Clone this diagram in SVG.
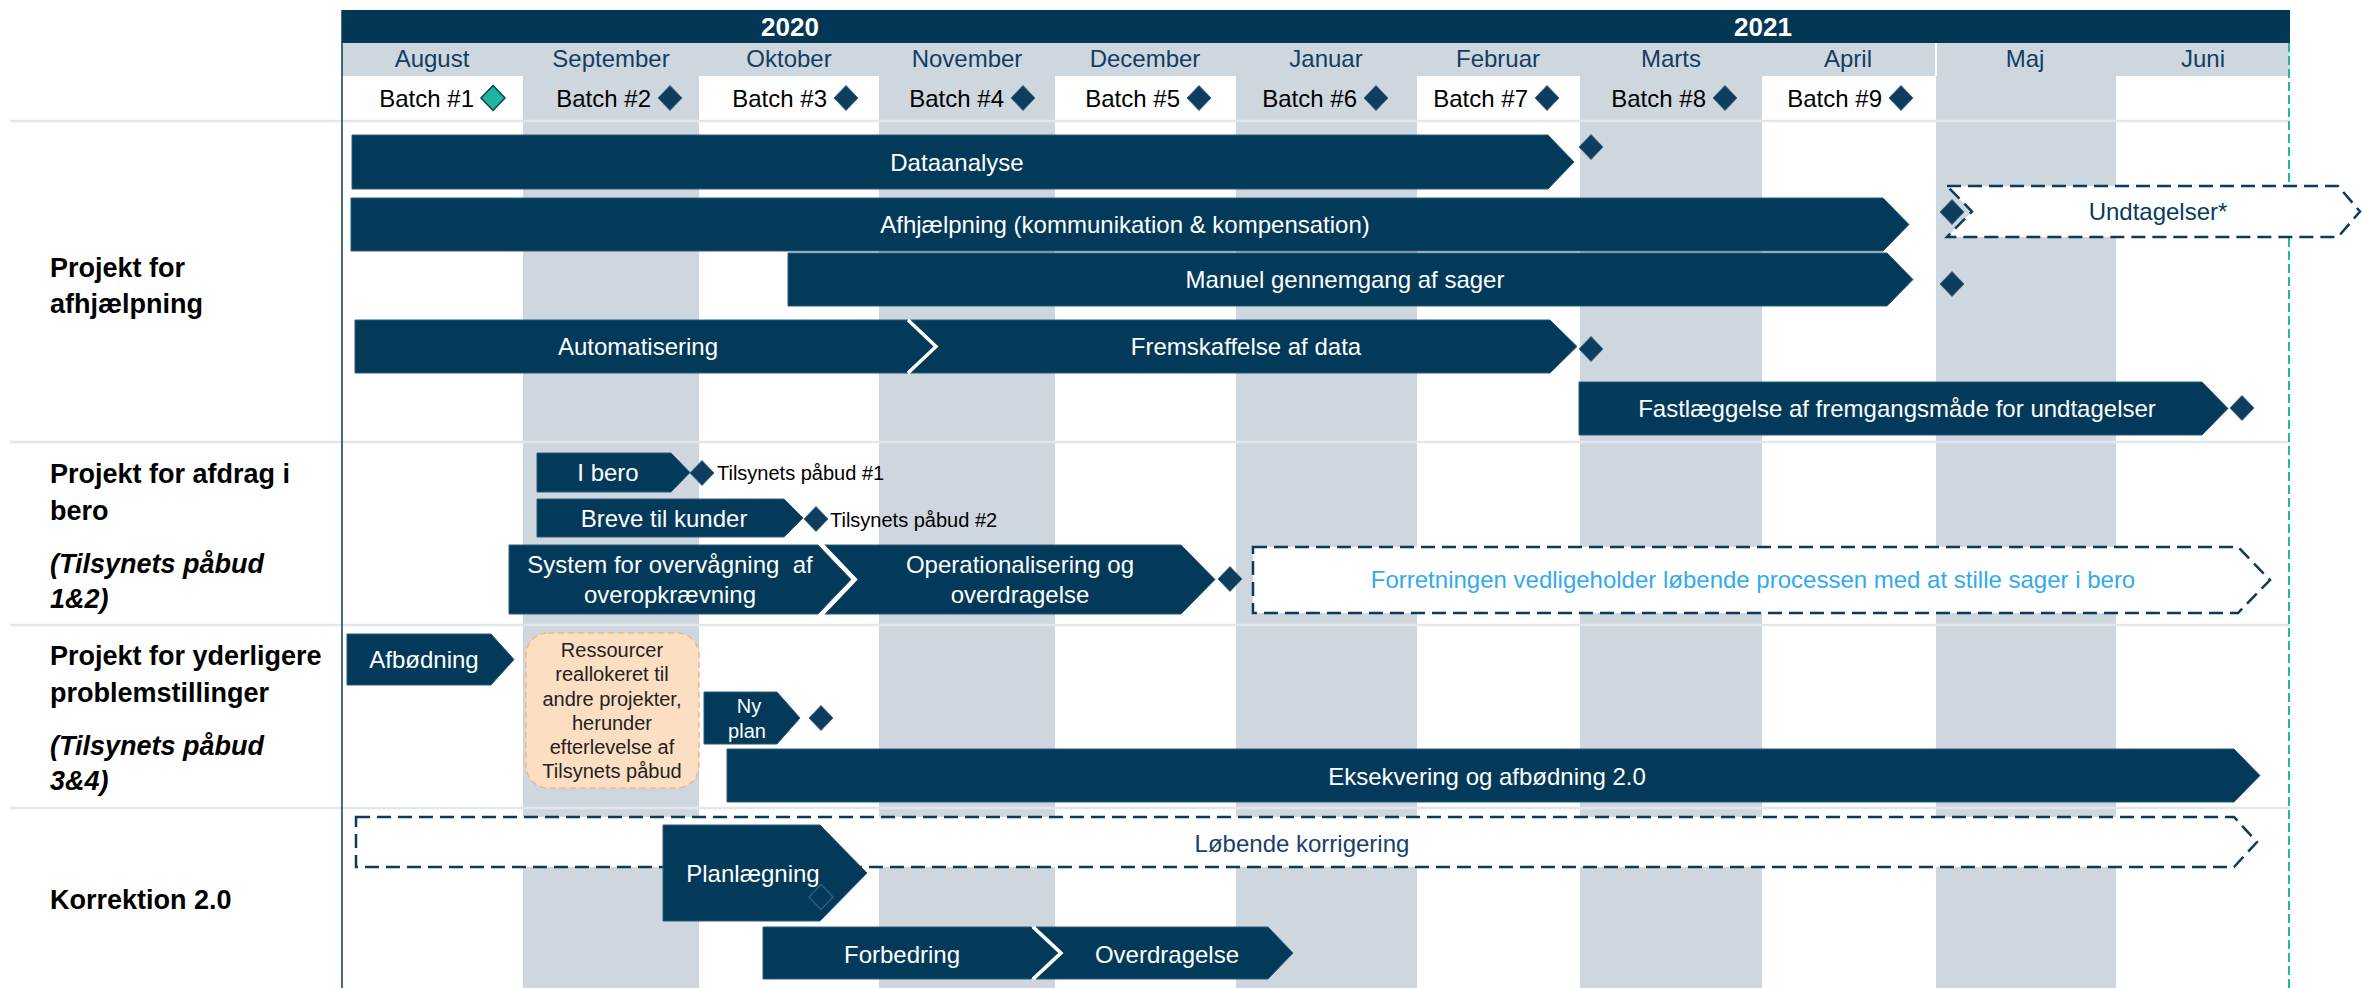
<svg xmlns="http://www.w3.org/2000/svg" xmlns:xlink="http://www.w3.org/1999/xlink" width="2362" height="988" viewBox="0 0 2362 988">
<style>
text{font-family:"Liberation Sans",Arial,sans-serif}
.col{fill:#CED6DE}
.sep{stroke:#E4E7E9;stroke-width:2.5}
.bar{fill:#033A5A;stroke:#2C5A7C;stroke-width:1}
.dash{fill:#fff;stroke:#0B3A5A;stroke-width:2.5;stroke-dasharray:14 7}
.gap{fill:none;stroke:#fff;stroke-width:3.5}
.lbl{font-size:24px;fill:#fff;text-anchor:middle}
.sm{font-size:20px}
.mon{font-size:24px;fill:#123E63;text-anchor:middle}
.yr{font-size:26px;font-weight:bold;fill:#fff;text-anchor:middle}
.bat{font-size:24px;fill:#000;text-anchor:end}
.sec{font-size:27px;font-weight:bold;fill:#000}
.it{font-style:italic}
.dia{fill:#0E3D5E;stroke:#3A6888;stroke-width:1}
.ms{font-size:20px;fill:#000}
</style>
<defs>
<path id="dm" d="M0,-12.5 L12,0 L0,12.5 L-12,0 Z"/>
</defs>

<g id="grid">
<rect x="342" y="10" width="1948" height="33" fill="#033755"/>
<rect x="342" y="43" width="1948" height="33" class="col"/>
<line x1="1936" y1="43" x2="1936" y2="76" stroke="#fff" stroke-width="2"/>
<rect x="523" y="76" width="176" height="912" class="col"/>
<rect x="879" y="76" width="176" height="912" class="col"/>
<rect x="1236" y="76" width="181" height="912" class="col"/>
<rect x="1580" y="76" width="182" height="912" class="col"/>
<rect x="1936" y="76" width="180" height="912" class="col"/>
<line x1="10" y1="121" x2="2290" y2="121" class="sep"/>
<line x1="10" y1="442" x2="2290" y2="442" class="sep"/>
<line x1="10" y1="625" x2="2290" y2="625" class="sep"/>
<line x1="10" y1="808" x2="2290" y2="808" class="sep"/>
<line x1="342" y1="10" x2="342" y2="988" stroke="#0B3A5A" stroke-width="1.5"/>
<line x1="2289" y1="43" x2="2289" y2="988" stroke="#1DBB9B" stroke-width="2" stroke-dasharray="9 4"/>
<text x="790" y="36" class="yr">2020</text>
<text x="1763" y="36" class="yr">2021</text>
<text x="432" y="67" class="mon">August</text>
<text x="611" y="67" class="mon">September</text>
<text x="789" y="67" class="mon">Oktober</text>
<text x="967" y="67" class="mon">November</text>
<text x="1145" y="67" class="mon">December</text>
<text x="1326" y="67" class="mon">Januar</text>
<text x="1498" y="67" class="mon">Februar</text>
<text x="1671" y="67" class="mon">Marts</text>
<text x="1848" y="67" class="mon">April</text>
<text x="2025" y="67" class="mon">Maj</text>
<text x="2203" y="67" class="mon">Juni</text>
</g>

<g id="batches">
<text x="474" y="107" class="bat">Batch #1</text>
<use xlink:href="#dm" x="493" y="98" fill="#1FB5A0" stroke="#0B3A5A" stroke-width="1.5"/>
<text x="651" y="107" class="bat">Batch #2</text>
<use xlink:href="#dm" x="670" y="98" class="dia"/>
<text x="827" y="107" class="bat">Batch #3</text>
<use xlink:href="#dm" x="846" y="98" class="dia"/>
<text x="1004" y="107" class="bat">Batch #4</text>
<use xlink:href="#dm" x="1023" y="98" class="dia"/>
<text x="1180" y="107" class="bat">Batch #5</text>
<use xlink:href="#dm" x="1199" y="98" class="dia"/>
<text x="1357" y="107" class="bat">Batch #6</text>
<use xlink:href="#dm" x="1376" y="98" class="dia"/>
<text x="1528" y="107" class="bat">Batch #7</text>
<use xlink:href="#dm" x="1547" y="98" class="dia"/>
<text x="1706" y="107" class="bat">Batch #8</text>
<use xlink:href="#dm" x="1725" y="98" class="dia"/>
<text x="1882" y="107" class="bat">Batch #9</text>
<use xlink:href="#dm" x="1901" y="98" class="dia"/>
</g>

<g id="sections">
<text x="50" y="277" class="sec">Projekt for</text>
<text x="50" y="313" class="sec">afhjælpning</text>
<text x="50" y="483" class="sec">Projekt for afdrag i</text>
<text x="50" y="520" class="sec">bero</text>
<text x="50" y="573" class="sec it">(Tilsynets påbud</text>
<text x="50" y="608" class="sec it">1&amp;2)</text>
<text x="50" y="665" class="sec">Projekt for yderligere</text>
<text x="50" y="702" class="sec">problemstillinger</text>
<text x="50" y="755" class="sec it">(Tilsynets påbud</text>
<text x="50" y="790" class="sec it">3&amp;4)</text>
<text x="50" y="909" class="sec">Korrektion 2.0</text>
</g>

<g id="connectors"></g>

<g id="dataanalyse">
<polygon class="bar" points="352,135 1548,135 1574,162 1548,189 352,189"/>
<text x="957" y="171" class="lbl">Dataanalyse</text>
<use xlink:href="#dm" x="1591" y="147" class="dia"/>
</g>

<g id="afhjaelpning">
<polygon class="bar" points="351,198 1883,198 1909,224.5 1883,251 351,251"/>
<text x="1125" y="233" class="lbl">Afhjælpning (kommunikation &amp; kompensation)</text>
</g>

<g id="undtagelser">
<polygon class="dash" points="1947,186 2338,186 2360,211.5 2338,237 1947,237 1972,211.5"/>
<text x="2158" y="220" class="lbl" fill="#0B3A5A" style="fill:#0B3A5A">Undtagelser*</text>
<use xlink:href="#dm" x="1952" y="212" class="dia"/>
</g>

<g id="manuel">
<polygon class="bar" points="788,253 1887,253 1913,279.5 1887,306 788,306"/>
<text x="1345" y="288" class="lbl">Manuel gennemgang af sager</text>
<use xlink:href="#dm" x="1952" y="284" class="dia"/>
</g>

<g id="automatisering">
<polygon class="bar" points="355,320 908,320 935,346.5 908,373 355,373"/>
<text x="638" y="355" class="lbl">Automatisering</text>
</g>

<g id="fremskaffelse">
<polygon class="bar" points="910,320 1550,320 1577,346.5 1550,373 910,373 937,346.5"/>
<polyline class="gap" points="908,320 936,346.5 908,373"/>
<text x="1246" y="355" class="lbl">Fremskaffelse af data</text>
<use xlink:href="#dm" x="1591" y="349" class="dia"/>
</g>

<g id="fastlaeggelse">
<polygon class="bar" points="1579,382 2202,382 2228,408.5 2202,435 1579,435"/>
<text x="1897" y="417" class="lbl">Fastlæggelse af fremgangsmåde for undtagelser</text>
<use xlink:href="#dm" x="2242" y="408" class="dia"/>
</g>

<g id="ibero">
<polygon class="bar" points="537,453 671,453 690,472.5 671,492 537,492"/>
<text x="608" y="481" class="lbl">I bero</text>
<use xlink:href="#dm" x="702" y="473" class="dia"/>
<text x="717" y="480" class="ms">Tilsynets påbud #1</text>
</g>

<g id="breve">
<polygon class="bar" points="537,499 784,499 803,518 784,537 537,537"/>
<text x="664" y="527" class="lbl">Breve til kunder</text>
<use xlink:href="#dm" x="816" y="519" class="dia"/>
<text x="830" y="527" class="ms">Tilsynets påbud #2</text>
</g>

<g id="system">
<polygon class="bar" points="509,545 818,545 851,579.5 818,614 509,614"/>
<text x="670" y="573" class="lbl" xml:space="preserve">System for overvågning  af</text>
<text x="670" y="603" class="lbl">overopkrævning</text>
</g>

<g id="operationalisering">
<polygon class="bar" points="824,545 1181,545 1215,579.5 1181,614 824,614 857,579.5"/>
<polyline class="gap" points="822,545 855,579.5 822,614" style="stroke-width:4"/>
<text x="1020" y="573" class="lbl">Operationalisering og</text>
<text x="1020" y="603" class="lbl">overdragelse</text>
<use xlink:href="#dm" x="1230" y="579" class="dia"/>
</g>

<g id="forretningen">
<polygon class="dash" points="1253,547 2238,547 2270,580 2238,613 1253,613"/>
<text x="1753" y="588" class="lbl" style="fill:#33A9EE">Forretningen vedligeholder løbende processen med at stille sager i bero</text>
</g>

<g id="afbodning">
<polygon class="bar" points="347,634 491,634 514,659.5 491,685 347,685"/>
<text x="424" y="668" class="lbl">Afbødning</text>
</g>

<g id="ressourcer">
<rect x="526" y="633" width="173" height="155" rx="22" ry="22" fill="#FCDFC2" stroke="#F6B580" stroke-width="1.5" stroke-dasharray="6 4"/>
<text x="612" y="657" class="ms" text-anchor="middle" style="fill:#222">Ressourcer</text>
<text x="612" y="681" class="ms" text-anchor="middle" style="fill:#222">reallokeret til</text>
<text x="612" y="706" class="ms" text-anchor="middle" style="fill:#222">andre projekter,</text>
<text x="612" y="730" class="ms" text-anchor="middle" style="fill:#222">herunder</text>
<text x="612" y="754" class="ms" text-anchor="middle" style="fill:#222">efterlevelse af</text>
<text x="612" y="778" class="ms" text-anchor="middle" style="fill:#222">Tilsynets påbud</text>
</g>

<g id="nyplan">
<polygon class="bar" points="704,692 777,692 800,718 777,744 704,744"/>
<text x="749" y="713" class="lbl sm">Ny</text>
<text x="747" y="738" class="lbl sm">plan</text>
<use xlink:href="#dm" x="821" y="718" class="dia"/>
</g>

<g id="eksekvering">
<polygon class="bar" points="727,749 2234,749 2260,775.5 2234,802 727,802"/>
<text x="1487" y="785" class="lbl">Eksekvering og afbødning 2.0</text>
</g>

<g id="lobende">
<polygon class="dash" points="356,817 2234,817 2257,842 2234,867 356,867"/>
<text x="1302" y="852" class="lbl" style="fill:#17416A">Løbende korrigering</text>
</g>

<g id="planlaegning">
<polygon class="bar" points="663,825 820,825 867,873 820,921 663,921"/>
<text x="753" y="882" class="lbl">Planlægning</text>
<use xlink:href="#dm" x="821" y="897" fill="none" stroke="#2F5C7E" stroke-width="1.5"/>
</g>

<g id="forbedring">
<polygon class="bar" points="763,927 1031,927 1058,953 1031,979 763,979"/>
<text x="902" y="963" class="lbl">Forbedring</text>
</g>

<g id="overdragelse">
<polygon class="bar" points="1036,927 1268,927 1293,953 1268,979 1036,979 1063,953"/>
<polyline class="gap" points="1033,927 1061,953 1033,979"/>
<text x="1167" y="963" class="lbl">Overdragelse</text>
</g>
</svg>
